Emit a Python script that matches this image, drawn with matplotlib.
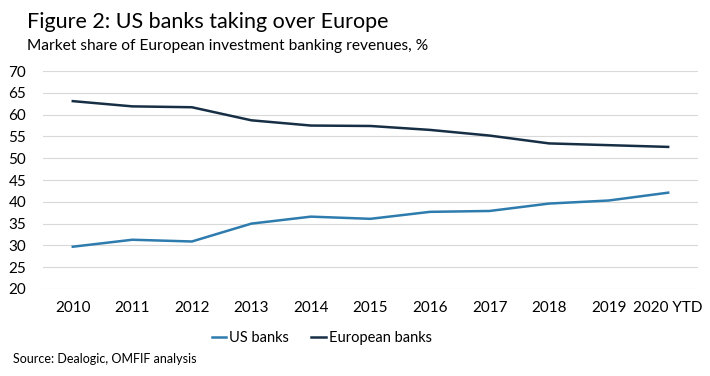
import matplotlib.pyplot as plt

years = ['2010', '2011', '2012', '2013', '2014', '2015', '2016', '2017', '2018', '2019', '2020 YTD']
us_banks = [29.7, 31.3, 30.9, 35.0, 36.6, 36.1, 37.7, 37.9, 39.6, 40.3, 42.1]
european_banks = [63.1, 61.9, 61.7, 58.7, 57.5, 57.4, 56.5, 55.2, 53.4, 53.0, 52.6]

plt.rcParams['font.family'] = ['Lato', 'DejaVu Sans']

fig = plt.figure(figsize=(7.1, 3.76), dpi=100)
ax = fig.add_axes([0.0606, 0.2314, 0.9224, 0.5796])

x = range(len(years))
ax.plot(x, us_banks, color='#2E7BAE', linewidth=1.8, label='US banks')
ax.plot(x, european_banks, color='#172F45', linewidth=1.8, label='European banks')

ax.set_xlim(-0.5, len(years) - 0.5)
ax.set_ylim(20, 70)
ax.set_yticks(range(20, 75, 5))
ax.set_xticks(list(x))
ax.set_xticklabels(years)
ax.grid(axis='y', color='#D9D9D9', linewidth=0.8)
ax.set_axisbelow(True)
for s in ax.spines.values():
    s.set_visible(False)
ax.tick_params(length=0, labelsize=11, colors='#000000')
ax.tick_params(axis='x', pad=9)
ax.tick_params(axis='y', pad=12)

fig.text(0.038, 0.925, 'Figure 2: US banks taking over Europe', fontsize=15.5)
fig.text(0.038, 0.868, 'Market share of European investment banking revenues, %', fontsize=11.2)
fig.legend(loc='center', bbox_to_anchor=(0.453, 0.1), ncol=2, frameon=False,
           fontsize=10.5, handlelength=1.0, handletextpad=0.2, columnspacing=1.5)
fig.text(0.018, 0.035, 'Source: Dealogic, OMFIF analysis', fontsize=9)

fig.savefig('out.png', dpi=100)
